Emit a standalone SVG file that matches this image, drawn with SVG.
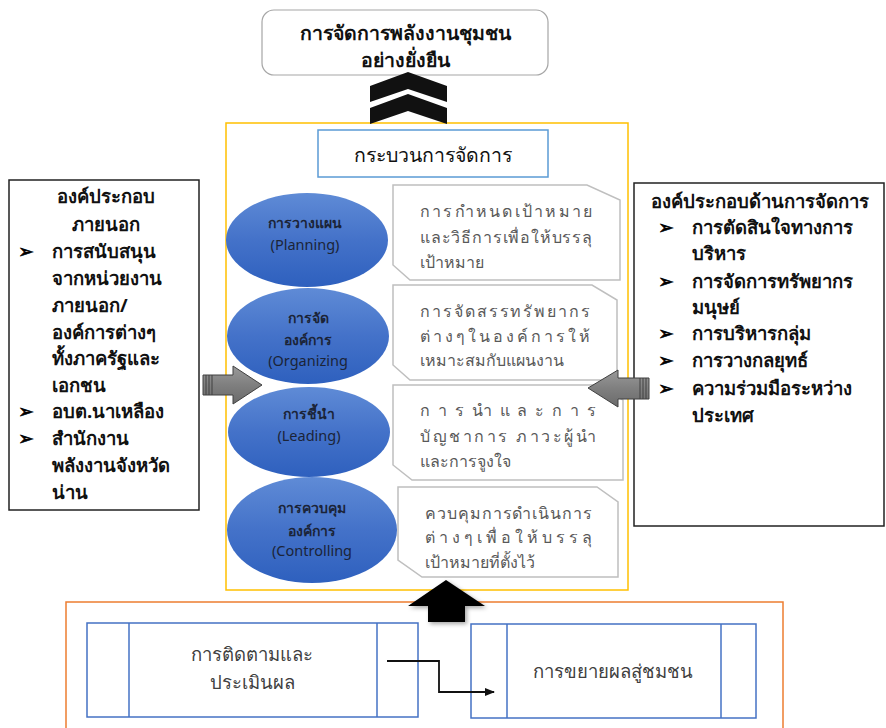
<svg xmlns="http://www.w3.org/2000/svg" width="886" height="728" viewBox="0 0 886 728">
<defs>
<linearGradient id="blueG" x1="0" y1="0" x2="0" y2="1">
<stop offset="0" stop-color="#5f8bd6"/>
<stop offset="0.5" stop-color="#4472c9"/>
<stop offset="1" stop-color="#2e60be"/>
</linearGradient>
<linearGradient id="grayG" x1="0" y1="0" x2="0" y2="1">
<stop offset="0" stop-color="#9a9a9a"/>
<stop offset="0.5" stop-color="#7f7f7f"/>
<stop offset="1" stop-color="#6a6a6a"/>
</linearGradient>
<marker id="ah" markerWidth="10" markerHeight="8" refX="9" refY="4" orient="auto" markerUnits="userSpaceOnUse">
<path d="M0,0 L10,4 L0,8 Z" fill="#111"/>
</marker>
<filter id="sh" x="-20%" y="-20%" width="140%" height="140%">
<feDropShadow dx="2" dy="2" stdDeviation="2" flood-color="#000" flood-opacity="0.35"/>
</filter>
</defs>
<style>
text{font-family:"Noto Sans","DejaVu Sans",sans-serif}
.title{font-size:19.5px;font-weight:bold;fill:#111}
.ell{font-size:14px;fill:#1b2438;text-anchor:middle}
.ellb{font-weight:bold}
.lat{font-size:14.5px}
.desc{font-size:16px;fill:#595959}
.side{font-size:18.5px;font-weight:bold;fill:#111}
.bul{font-size:19px;fill:#000;stroke:#000;stroke-width:0.6}
.bot{font-size:18.5px;fill:#404040;text-anchor:middle}
.snip{fill:#fff;stroke:#bfbfbf;stroke-width:1.5}
.bbox{fill:#fff;stroke:#4472c4;stroke-width:1.5}
.bl{stroke:#4472c4;stroke-width:1.5}
</style>
<rect width="886" height="728" fill="#fff"/>

<g id="goal">
<rect x="262" y="10" width="286" height="65" rx="12" fill="#fff" stroke="#a6a6a6" stroke-width="1.2"/>
<text class="title" x="405" y="40" text-anchor="middle">การจัดการพลังงานชุมชน</text>
<text class="title" x="405" y="67" text-anchor="middle">อย่างยั่งยืน</text>
</g>

<g id="process">
<rect x="226" y="123" width="402" height="467" fill="#fff" stroke="#ffc000" stroke-width="1.5"/>
<rect x="318" y="130" width="230" height="47" fill="#fff" stroke="#5b9bd5" stroke-width="1.5"/>
<text x="433" y="162" text-anchor="middle" style="font-size:19.5px;fill:#111">กระบวนการจัดการ</text>
</g>

<g id="chevrons">
<path d="M370,86 L408,72 L447,86 L447,102 L408,89 L370,102 Z" fill="#111"/>
<path d="M370,108 L408,94 L447,108 L447,124 L408,111 L370,124 Z" fill="#111"/>
</g>

<g id="planning">
<ellipse cx="307" cy="240" rx="81" ry="47" fill="url(#blueG)"/>
<text class="ell ellb" x="305" y="228">การวางแผน</text>
<text class="ell lat" x="305" y="250">(Planning)</text>
</g>
<g id="planning-desc">
<path class="snip" d="M393,185 L587,185 L620,200 L620,280 L410,280 L393,265 Z"/>
<text class="desc" x="420" y="217" textLength="172" lengthAdjust="spacing">การกำหนดเป้าหมาย</text>
<text class="desc" x="420" y="243" textLength="172" lengthAdjust="spacing">และวิธีการเพื่อให้บรรลุ</text>
<text class="desc" x="420" y="268">เป้าหมาย</text>
</g>

<g id="organizing">
<ellipse cx="308" cy="336" rx="81" ry="48" fill="url(#blueG)"/>
<text class="ell ellb" x="308" y="323">การจัด</text>
<text class="ell ellb" x="308" y="345">องค์การ</text>
<text class="ell lat" x="308" y="366">(Organizing</text>
</g>
<g id="organizing-desc">
<path class="snip" d="M393,285 L592,285 L617,300 L617,380 L410,380 L393,365 Z"/>
<text class="desc" x="420" y="317" textLength="170" lengthAdjust="spacing">การจัดสรรทรัพยากร</text>
<text class="desc" x="420" y="342" textLength="170" lengthAdjust="spacing">ต่างๆในองค์การให้</text>
<text class="desc" x="420" y="366">เหมาะสมกับแผนงาน</text>
</g>

<g id="leading">
<ellipse cx="309" cy="432" rx="81" ry="45" fill="url(#blueG)"/>
<text class="ell ellb" x="309" y="419">การชี้นำ</text>
<text class="ell lat" x="309" y="441">(Leading)</text>
</g>
<g id="leading-desc">
<path class="snip" d="M393,385 L600,385 L623,400 L623,480 L412,480 L393,465 Z"/>
<text class="desc" x="420" y="416" textLength="176" lengthAdjust="spacing">การนำและการ</text>
<text class="desc" x="420" y="442" textLength="176" lengthAdjust="spacing">บัญชาการ ภาวะผู้นำ</text>
<text class="desc" x="420" y="467">และการจูงใจ</text>
</g>

<g id="controlling">
<ellipse cx="312" cy="530" rx="85" ry="53" fill="url(#blueG)"/>
<text class="ell ellb" x="312" y="513">การควบคุม</text>
<text class="ell ellb" x="312" y="536">องค์การ</text>
<text class="ell lat" x="312" y="556">(Controlling</text>
</g>
<g id="controlling-desc">
<path class="snip" d="M398,487 L597,487 L618,502 L618,577 L422,577 L398,560 Z"/>
<text class="desc" x="425" y="519" textLength="167" lengthAdjust="spacing">ควบคุมการดำเนินการ</text>
<text class="desc" x="425" y="543" textLength="167" lengthAdjust="spacing">ต่างๆเพื่อให้บรรลุ</text>
<text class="desc" x="425" y="568">เป้าหมายที่ตั้งไว้</text>
</g>

<g id="external">
<rect x="9" y="180" width="190" height="330" fill="#fff" stroke="#222" stroke-width="1.5"/>
<text class="side" x="106" y="203" text-anchor="middle">องค์ประกอบ</text>
<text class="side" x="106" y="231" text-anchor="middle">ภายนอก</text>
<text class="bul" x="18" y="258">➢</text>
<text class="side" x="52" y="258">การสนับสนุน</text>
<text class="side" x="52" y="285">จากหน่วยงาน</text>
<text class="side" x="52" y="312">ภายนอก/</text>
<text class="side" x="52" y="339">องค์การต่างๆ</text>
<text class="side" x="52" y="365">ทั้งภาครัฐและ</text>
<text class="side" x="52" y="392">เอกชน</text>
<text class="bul" x="18" y="418">➢</text>
<text class="side" x="52" y="418">อบต.นาเหลือง</text>
<text class="bul" x="18" y="445">➢</text>
<text class="side" x="52" y="445">สำนักงาน</text>
<text class="side" x="52" y="472">พลังงานจังหวัด</text>
<text class="side" x="52" y="499">น่าน</text>
</g>

<g id="management">
<rect x="634" y="183" width="250" height="343" fill="#fff" stroke="#222" stroke-width="1.5"/>
<text class="side" x="651" y="208">องค์ประกอบด้านการจัดการ</text>
<text class="bul" x="658" y="234">➢</text>
<text class="side" x="692" y="234">การตัดสินใจทางการ</text>
<text class="side" x="692" y="260">บริหาร</text>
<text class="bul" x="658" y="288">➢</text>
<text class="side" x="692" y="288">การจัดการทรัพยากร</text>
<text class="side" x="692" y="314">มนุษย์</text>
<text class="bul" x="658" y="340">➢</text>
<text class="side" x="692" y="340">การบริหารกลุ่ม</text>
<text class="bul" x="658" y="367">➢</text>
<text class="side" x="692" y="367">การวางกลยุทธ์</text>
<text class="bul" x="658" y="395">➢</text>
<text class="side" x="692" y="395">ความร่วมมือระหว่าง</text>
<text class="side" x="692" y="422">ประเทศ</text>
</g>

<g id="bottom">
<rect x="66" y="602" width="717" height="140" fill="#fff" stroke="#ed7d31" stroke-width="1.5"/>
</g>
<g id="monitor">
<rect class="bbox" x="87" y="623" width="331" height="94"/>
<line class="bl" x1="129" y1="623" x2="129" y2="717"/>
<line class="bl" x1="377" y1="623" x2="377" y2="717"/>
<text class="bot" x="252" y="661">การติดตามและ</text>
<text class="bot" x="252" y="689">ประเมินผล</text>
</g>
<g id="extend">
<rect class="bbox" x="471" y="624" width="285" height="94"/>
<line class="bl" x1="507" y1="624" x2="507" y2="718"/>
<line class="bl" x1="721" y1="624" x2="721" y2="718"/>
<text class="bot" x="613" y="678">การขยายผลสู่ชมชน</text>
</g>

<g id="connectors">
<path d="M387,661 L439,661 L439,692 L494,692" fill="none" stroke="#111" stroke-width="1.8" marker-end="url(#ah)"/>
<g id="left-arrow">
<path d="M203,375 L233,375 L233,366 L262,385 L233,404 L233,395 L203,395 Z" fill="url(#grayG)" stroke="#404040" stroke-width="1"/>
<path d="M206,375 V395 M209,375 V395 M212,375 V395" stroke="#404040" stroke-width="1"/>
</g>
<g id="right-arrow">
<path d="M649,378 L618,378 L618,370 L588,388 L618,407 L618,399 L649,399 Z" fill="url(#grayG)" stroke="#404040" stroke-width="1"/>
<path d="M640,378 V399 M643,378 V399 M646,378 V399" stroke="#404040" stroke-width="1"/>
</g>
<g id="up-arrow" filter="url(#sh)">
<path d="M446,580 L485,606 L465,606 L465,622 L428,622 L428,606 L408,606 Z" fill="#000"/>
</g>
</g>
</svg>
